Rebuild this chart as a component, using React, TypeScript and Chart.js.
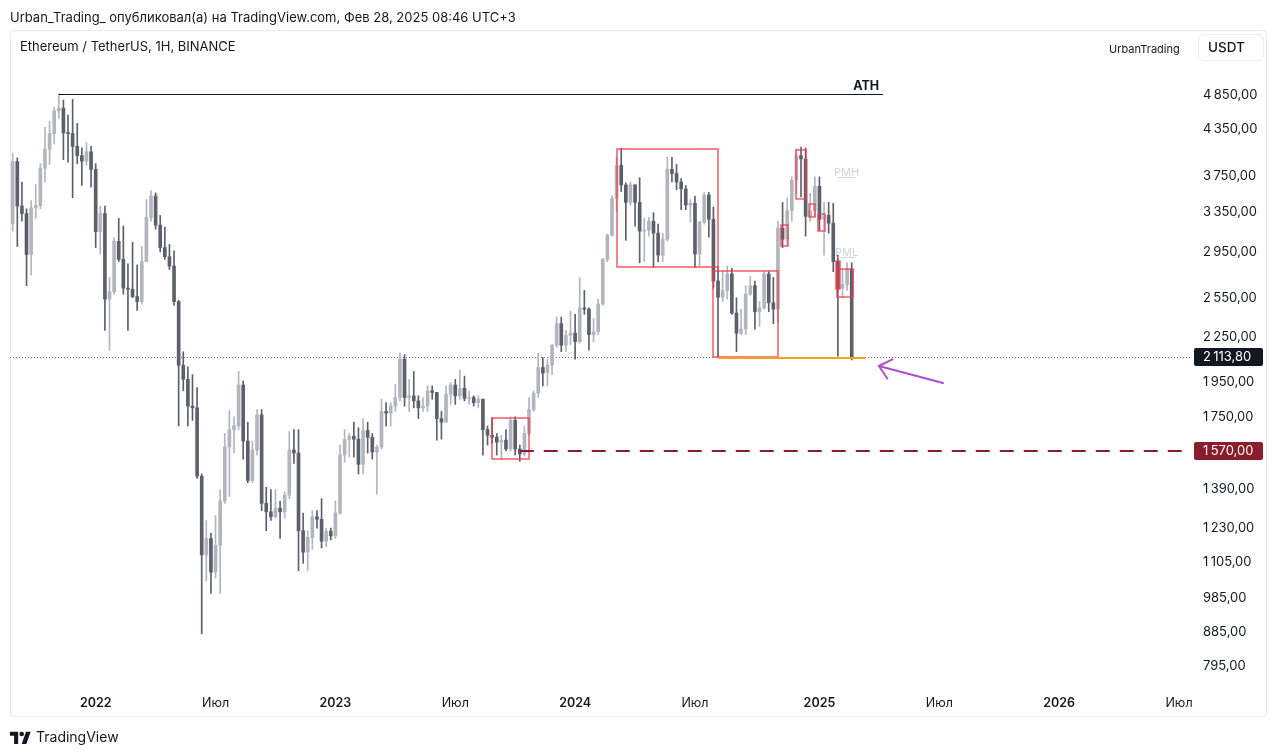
import React, { useEffect, useRef } from "react";
import { Chart, registerables } from "chart.js";

Chart.register(...registerables);

const FONT = "Inter, 'Noto Sans', 'DejaVu Sans', sans-serif";
const UP = "#b2b5be";
const DOWN = "#5d606b";

// Weekly ETH/USDT candles, first week starts 2021-08-30
const opens = [
  3225, 3927, 3410, 3330, 2925, 3390, 3415, 3845, 4080, 4290,
  4610, 4650, 4300, 4290, 4120, 4000, 3930, 4050, 3830, 3145,
  3330, 2540, 2600, 3050, 2880, 2630, 2620, 2560, 2520, 2860,
  3290, 3520, 3210, 2990, 2905, 2820, 2520, 2060, 1970, 1810,
  1800, 1450, 1130, 1190, 1070, 1165, 1340, 1590, 1680, 1700,
  1935, 1620, 1430, 1575, 1760, 1330, 1295, 1275, 1310, 1295,
  1365, 1575, 1560, 1220, 1140, 1195, 1275, 1265, 1180, 1218,
  1200, 1290, 1550, 1628, 1645, 1630, 1505, 1675, 1640, 1565,
  1590, 1780, 1770, 1810, 1860, 2100, 1860, 1870, 1840, 1800,
  1810, 1900, 1890, 1740, 1720, 1880, 1935, 1870, 1915, 1855,
  1860, 1830, 1850, 1680, 1650, 1640, 1615, 1625, 1580, 1730,
  1580, 1555, 1660, 1790, 1885, 2045, 2010, 2060, 2195, 2350,
  2195, 2265, 2280, 2220, 2470, 2460, 2270, 2290, 2500, 2880,
  3110, 3490, 3880, 3645, 3450, 3645, 3450, 3150, 3160, 3250,
  3130, 2920, 3070, 3830, 3780, 3680, 3600, 3420, 3440, 2930,
  3240, 3530, 3270, 2690, 2555, 2610, 2750, 2430, 2280, 2310,
  2580, 2650, 2440, 2470, 2750, 2510, 2460, 3180, 3070, 3360,
  3700, 4000, 3960, 3300, 3360, 3630, 3270, 3310, 3230, 2860,
  2630, 2660, 2790,
];
const highs = [
  4027, 3973, 3680, 3380, 3470, 3650, 3900, 4375, 4460, 4665,
  4868, 4770, 4550, 4780, 4430, 4100, 4170, 4120, 3900, 3410,
  3410, 2720, 3085, 3280, 3200, 2840, 3040, 2830, 3000, 3480,
  3580, 3555, 3310, 3190, 3020, 2960, 2530, 2150, 2050, 2000,
  1920, 1460, 1260, 1210, 1280, 1390, 1660, 1785, 1750, 2020,
  1960, 1720, 1620, 1790, 1790, 1400, 1390, 1390, 1340, 1380,
  1670, 1680, 1680, 1290, 1220, 1300, 1300, 1350, 1230, 1230,
  1340, 1600, 1680, 1660, 1720, 1690, 1740, 1720, 1660, 1600,
  1850, 1830, 1830, 1940, 2140, 2130, 1970, 2020, 1870, 1860,
  1930, 1930, 1890, 1780, 1930, 1950, 1970, 2030, 1990, 1900,
  1870, 1870, 1850, 1700, 1745, 1660, 1650, 1680, 1750, 1750,
  1600, 1700, 1860, 1900, 2140, 2110, 2100, 2200, 2400, 2400,
  2300, 2445, 2420, 2717, 2610, 2470, 2390, 2540, 2890, 3120,
  3520, 3980, 4095, 3670, 3680, 3650, 3730, 3280, 3290, 3340,
  3220, 3130, 3980, 3980, 3890, 3720, 3640, 3480, 3520, 3250,
  3560, 3560, 3400, 2820, 2780, 2820, 2800, 2550, 2460, 2650,
  2730, 2690, 2520, 2770, 2770, 2720, 3250, 3450, 3500, 3740,
  4090, 4110, 4100, 3550, 3740, 3740, 3450, 3450, 3440, 2920,
  2790, 2850, 2850,
];
const lows = [
  3150, 3000, 3250, 2650, 2740, 3280, 3380, 3680, 3890, 4150,
  4500, 3950, 3920, 3500, 3900, 3640, 3880, 3620, 2990, 2930,
  2300, 2160, 2580, 2860, 2580, 2300, 2550, 2450, 2500, 2860,
  3250, 3170, 2950, 2880, 2790, 2490, 1700, 1900, 1700, 1730,
  1440, 880, 1040, 1000, 1050, 1000, 1330, 1360, 1560, 1680,
  1530, 1420, 1420, 1550, 1300, 1220, 1260, 1270, 1190, 1270,
  1350, 1510, 1075, 1100, 1075, 1150, 1230, 1155, 1160, 1185,
  1190, 1285, 1515, 1540, 1540, 1460, 1460, 1560, 1530, 1370,
  1580, 1700, 1700, 1780, 1840, 1810, 1780, 1800, 1740, 1780,
  1780, 1850, 1625, 1630, 1720, 1820, 1820, 1850, 1840, 1820,
  1810, 1800, 1550, 1600, 1610, 1550, 1530, 1570, 1570, 1550,
  1520, 1545, 1650, 1780, 1860, 1930, 1930, 2000, 2180, 2150,
  2150, 2200, 2100, 2210, 2420, 2160, 2220, 2270, 2490, 2860,
  3100, 3350, 3570, 3060, 3420, 3200, 2850, 2860, 3100, 2810,
  2860, 2860, 3050, 3680, 3590, 3370, 3370, 3240, 2810, 2820,
  3220, 3090, 2630, 2111, 2520, 2540, 2420, 2150, 2270, 2270,
  2570, 2310, 2330, 2460, 2440, 2350, 2360, 2990, 3020, 3250,
  3550, 3510, 3100, 3250, 3300, 3160, 2920, 3130, 2770, 2120,
  2550, 2610, 2095,
];
const closes = [
  3927, 3410, 3330, 2925, 3390, 3415, 3845, 4080, 4290, 4610,
  4650, 4300, 4290, 4120, 4000, 3930, 4050, 3830, 3145, 3330,
  2540, 2600, 3050, 2880, 2630, 2620, 2560, 2520, 2860, 3290,
  3520, 3210, 2990, 2905, 2820, 2520, 2060, 1970, 1810, 1800,
  1450, 1130, 1190, 1070, 1165, 1340, 1590, 1680, 1700, 1935,
  1620, 1430, 1575, 1760, 1330, 1295, 1275, 1310, 1295, 1365,
  1575, 1560, 1220, 1140, 1195, 1275, 1265, 1180, 1218, 1200,
  1290, 1550, 1628, 1645, 1630, 1505, 1675, 1640, 1565, 1590,
  1780, 1770, 1810, 1860, 2100, 1860, 1870, 1840, 1800, 1810,
  1900, 1890, 1740, 1720, 1880, 1935, 1870, 1915, 1855, 1860,
  1830, 1850, 1680, 1650, 1640, 1615, 1625, 1580, 1730, 1580,
  1555, 1660, 1790, 1885, 2045, 2010, 2060, 2195, 2350, 2195,
  2265, 2280, 2220, 2470, 2460, 2270, 2290, 2500, 2880, 3110,
  3490, 3880, 3645, 3450, 3645, 3450, 3150, 3160, 3250, 3130,
  2920, 3070, 3830, 3780, 3680, 3600, 3420, 3440, 2930, 3240,
  3530, 3270, 2690, 2555, 2610, 2750, 2430, 2280, 2310, 2580,
  2650, 2440, 2470, 2750, 2510, 2460, 3180, 3070, 3360, 3700,
  4000, 3960, 3300, 3360, 3630, 3270, 3310, 3230, 2860, 2630,
  2660, 2790, 2113.8,
];

// time axis: week index of first bar of each labelled period
const timeTickIndex = [18, 44, 70, 96, 122, 148, 175, 201, 227, 253];
const timeTickLabels = ["2022", "Июл", "2023", "Июл", "2024", "Июл", "2025", "Июл", "2026", "Июл"];
const priceTicks = [4850, 4350, 3750, 3350, 2950, 2550, 2250, 1950, 1750, 1390, 1230, 1105, 985, 885, 795];

// drawings (week index / price)
const lastPrice = 2113.8;
const levelPrice = 1570;
const levelStart = 110;
const athPrice = 4868;
const athStart = 10;
const athEnd = 188.8;
const supportStart = 153;
const supportEnd = 185;
const zoneStart = [104, 131, 152, 166.7, 169.9, 172.7, 174.7, 178.7, 178.6];
const zoneEnd = [112, 153, 166, 168.1, 172.1, 174, 176.1, 182.3, 179.4];
const zoneHigh = [1741, 4084, 2772, 3213, 4074, 3430, 3326, 2792, 2870];
const zoneLow = [1531, 2811, 2113, 3006, 3485, 3292, 3155, 2555, 2625];
const pmhPrice = 3740;
const pmlPrice = 2905;
const markStart = 179;
const markEnd = 182.8;
const arrowTail = [201.8, 1947];
const arrowHead = [187.9, 2055];

const X_MIN = -0.586;
const X_MAX = 255.38;

function fmtPrice(v: number): string {
  const [i, d] = v.toFixed(2).split(".");
  return i.replace(/\B(?=(\d{3})+(?!\d))/g, "\u2009") + "," + d;
}

const overlayPlugin = {
  id: "overlay",
  beforeDatasetsDraw(chart: any) {
    const { ctx, chartArea: a, scales } = chart;
    const y = scales.y;
    ctx.save();
    const yl = Math.round(y.getPixelForValue(lastPrice)) + 0.5;
    ctx.strokeStyle = "#70737e";
    ctx.lineWidth = 1;
    ctx.setLineDash([1, 2]);
    ctx.beginPath();
    ctx.moveTo(a.left, yl);
    ctx.lineTo(a.right, yl);
    ctx.stroke();
    ctx.restore();
  },
  afterDatasetsDraw(chart: any) {
    const { ctx, chartArea: a, scales } = chart;
    const x = scales.x;
    const y = scales.y;
    const px = (v: number) => x.getPixelForValue(v);
    const py = (v: number) => y.getPixelForValue(v);
    ctx.save();
    ctx.beginPath();
    ctx.rect(a.left, a.top - 40, a.right - a.left, a.bottom - a.top + 40);
    ctx.clip();

    // zones
    for (let k = 0; k < zoneStart.length; k++) {
      const x0 = Math.round(px(zoneStart[k]));
      const x1 = Math.round(px(zoneEnd[k]));
      const y0 = Math.round(py(zoneHigh[k]));
      const y1 = Math.round(py(zoneLow[k]));
      if (k === zoneStart.length - 1) {
        ctx.fillStyle = "rgba(242,54,69,0.28)";
        ctx.fillRect(x0, y0, x1 - x0, y1 - y0);
      }
      ctx.strokeStyle = "rgba(242,60,74,0.9)";
      ctx.lineWidth = 1.4;
      ctx.strokeRect(x0, y0, x1 - x0, y1 - y0);
    }

    // ATH line
    const ya = Math.round(py(athPrice)) + 0.5;
    ctx.strokeStyle = "#131722";
    ctx.lineWidth = 1;
    ctx.beginPath();
    ctx.moveTo(px(athStart), ya);
    ctx.lineTo(px(athEnd), ya);
    ctx.stroke();
    ctx.fillStyle = "#131722";
    ctx.font = `bold 12.5px ${FONT}`;
    ctx.textAlign = "right";
    ctx.textBaseline = "alphabetic";
    ctx.fillText("ATH", px(athEnd) - 4, ya - 5);

    // support (orange) line
    const ys = py(lastPrice) + 1;
    ctx.strokeStyle = "#f5a11c";
    ctx.lineWidth = 2;
    ctx.beginPath();
    ctx.moveTo(px(supportStart), ys);
    ctx.lineTo(px(supportEnd), ys);
    ctx.stroke();

    // level dashed line
    const yv = Math.round(py(levelPrice));
    ctx.strokeStyle = "#8b1c2b";
    ctx.lineWidth = 2;
    ctx.setLineDash([14, 10]);
    ctx.beginPath();
    ctx.moveTo(px(levelStart), yv);
    ctx.lineTo(a.right, yv);
    ctx.stroke();
    ctx.setLineDash([]);

    // PMH / PML marks
    ctx.font = `11px ${FONT}`;
    ctx.textAlign = "center";
    ctx.fillStyle = "#d1d4dc";
    ctx.strokeStyle = "#d1d4dc";
    ctx.lineWidth = 1;
    [["PMH", pmhPrice], ["PML", pmlPrice]].forEach(([t, p]) => {
      const yy = Math.round(py(p as number)) + 0.5;
      const xm = (px(markStart) + px(markEnd)) / 2;
      ctx.fillText(t as string, xm, yy - 2);
      ctx.beginPath();
      ctx.moveTo(px(markStart), yy);
      ctx.lineTo(px(markEnd), yy);
      ctx.stroke();
    });

    // arrow
    const hx = px(arrowHead[0]);
    const hy = py(arrowHead[1]);
    const tx = px(arrowTail[0]);
    const ty = py(arrowTail[1]);
    const ang = Math.atan2(ty - hy, tx - hx);
    ctx.strokeStyle = "#ab4fcf";
    ctx.lineWidth = 2;
    ctx.lineCap = "round";
    ctx.beginPath();
    ctx.moveTo(tx, ty);
    ctx.lineTo(hx, hy);
    ctx.moveTo(hx + 15 * Math.cos(ang - 0.72), hy + 15 * Math.sin(ang - 0.72));
    ctx.lineTo(hx, hy);
    ctx.lineTo(hx + 15 * Math.cos(ang + 0.72), hy + 15 * Math.sin(ang + 0.72));
    ctx.stroke();
    ctx.restore();
  },
  afterDraw(chart: any) {
    const { ctx, chartArea: a, scales } = chart;
    const y = scales.y;
    ctx.save();
    const tag = (price: number, bg: string) => {
      const yy = y.getPixelForValue(price);
      ctx.fillStyle = bg;
      const x0 = a.right + 4;
      ctx.beginPath();
      ctx.roundRect(x0, Math.round(yy) - 9, 69, 18, 2);
      ctx.fill();
      ctx.fillStyle = "#ffffff";
      ctx.font = `13px ${FONT}`;
      ctx.textAlign = "left";
      ctx.textBaseline = "middle";
      ctx.fillText(fmtPrice(price), a.right + 13, Math.round(yy) + 0.5);
    };
    tag(lastPrice, "#131722");
    tag(levelPrice, "#8b1c2b");
    ctx.restore();
  },
};

function CandleChart() {
  const ref = useRef<HTMLCanvasElement | null>(null);
  useEffect(() => {
    if (!ref.current) return;
    const colors = opens.map((o, i) => (closes[i] >= o ? UP : DOWN));
    const wickData = opens.map((_, i) => ({ x: i, y: [lows[i], highs[i]] }));
    const bodyData = opens.map((o, i) => ({
      x: i,
      y: [Math.min(o, closes[i]), Math.max(o, closes[i])],
    }));
    const chart = new Chart(ref.current, {
      type: "bar",
      data: {
        datasets: [
          {
            data: wickData as any,
            backgroundColor: colors,
            barThickness: 1,
            grouped: false,
            borderWidth: 0,
          },
          {
            data: bodyData as any,
            backgroundColor: colors,
            barThickness: 3,
            grouped: false,
            minBarLength: 1,
            borderWidth: 0,
          },
        ],
      },
      options: {
        animation: false,
        responsive: false,
        devicePixelRatio: 1,
        layout: { padding: { left: 10, top: 62, right: 0, bottom: 0 } },
        plugins: { legend: { display: false }, tooltip: { enabled: false } },
        scales: {
          x: {
            type: "linear",
            min: X_MIN,
            max: X_MAX,
            offset: false,
            grid: { display: false, drawTicks: false },
            border: { display: false },
            afterBuildTicks: (s: any) => {
              s.ticks = timeTickIndex.map((v) => ({ value: v }));
            },
            afterFit: (s: any) => {
              s.height = 67;
            },
            ticks: {
              autoSkip: false,
              maxRotation: 0,
              padding: 7,
              color: "#131722",
              font: (c: any) => {
                const idx = timeTickIndex.indexOf(c.tick ? c.tick.value : -1);
                return { family: FONT, size: 12.5, weight: idx % 2 === 0 ? "600" : "400" };
              },
              callback: (v: any) => {
                const idx = timeTickIndex.indexOf(Number(v));
                return idx >= 0 ? timeTickLabels[idx] : "";
              },
            },
          },
          y: {
            type: "logarithmic",
            position: "right",
            min: 739,
            max: 5381,
            grid: { display: false, drawTicks: false },
            border: { display: false },
            afterBuildTicks: (s: any) => {
              s.ticks = priceTicks.map((v) => ({ value: v }));
            },
            afterFit: (s: any) => {
              s.width = 90;
            },
            ticks: {
              autoSkip: false,
              padding: 13,
              color: "#131722",
              font: { family: FONT, size: 13 },
              callback: (v: any) => fmtPrice(Number(v)),
            },
          },
        },
      },
      plugins: [overlayPlugin],
    });
    return () => chart.destroy();
  }, []);
  return (
    <canvas
      ref={ref}
      width={1280}
      height={756}
      style={{ position: "absolute", left: 0, top: 0, width: 1280, height: 756 }}
    />
  );
}

export default function App() {
  const abs = (s: any) => ({ position: "absolute" as const, fontFamily: FONT, color: "#131722", whiteSpace: "nowrap" as const, ...s });
  return (
    <div style={{ position: "absolute", left: 0, top: 0, width: 1280, height: 756, background: "#ffffff", overflow: "hidden" }}>
      <div style={{ position: "absolute", left: 10, top: 30, width: 1257, height: 687, border: "1px solid #e9ebf0", borderRadius: 4, boxSizing: "border-box" as const }} />
      <CandleChart />
      <div style={abs({ left: 10, top: 8, fontSize: 13, lineHeight: "18px" })}>
        Urban_Trading_ опубликовал(а) на TradingView.com, Фев 28, 2025 08:46 UTC+3
      </div>
      <div style={abs({ left: 20, top: 37, fontSize: 13, lineHeight: "18px" })}>Ethereum / TetherUS, 1H, BINANCE</div>
      <div style={abs({ left: 1109, top: 41, fontSize: 11, lineHeight: "16px" })}>UrbanTrading</div>
      <div
        style={abs({
          left: 1198,
          top: 34,
          width: 66,
          height: 27,
          border: "1px solid #eceef2",
          borderRadius: 6,
          boxSizing: "border-box",
        })}
      />
      <div style={abs({ left: 1208, top: 38, fontSize: 13.5, fontWeight: 500, lineHeight: "18px" })}>USDT</div>
      <svg style={{ position: "absolute", left: 10, top: 731 }} width="21" height="13" viewBox="0 0 36 22">
        <path d="M14 22H7V8H0V1h14v21zM28 22h-8l7.5-21h8L28 22z" fill="#131722" />
        <circle cx="20" cy="5" r="4" fill="#131722" />
      </svg>
      <div style={abs({ left: 36, top: 728, fontSize: 14, lineHeight: "18px" })}>TradingView</div>
    </div>
  );
}
